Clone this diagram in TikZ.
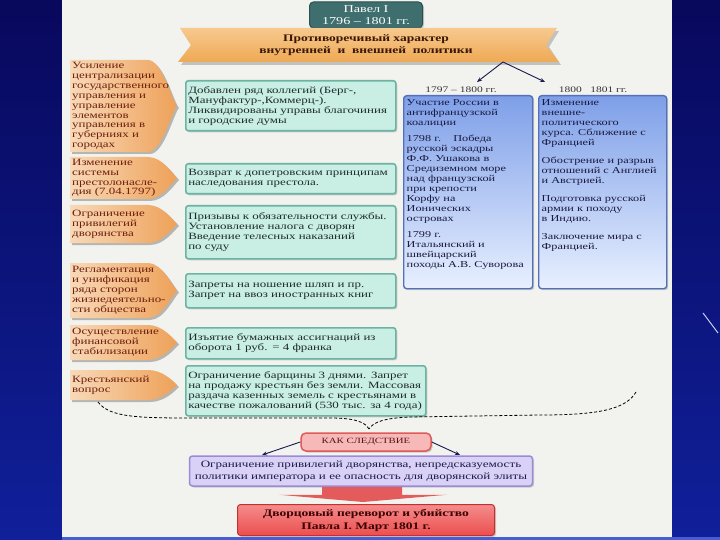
\documentclass[tikz,border=0pt]{standalone}
\usepackage{fontspec}
\setmainfont[FakeStretch=1.35]{Liberation Serif}
\usetikzlibrary{arrows.meta,shadows,calc}
\definecolor{navy}{HTML}{08085C}
\definecolor{navyL}{HTML}{10209A}
\definecolor{navyR}{HTML}{1A34C8}
\definecolor{paper}{HTML}{F2F2EE}
\definecolor{oL}{HTML}{F8D9B8}
\definecolor{oR}{HTML}{EEA158}
\definecolor{otext}{HTML}{6E1E0E}
\definecolor{gfill}{HTML}{C9EFE5}
\definecolor{gdraw}{HTML}{6DB3A3}
\definecolor{gtext}{HTML}{1E2A2A}
\definecolor{bTop}{HTML}{7E9FE8}
\definecolor{bBot}{HTML}{E8F0FF}
\definecolor{bdraw}{HTML}{5470B8}
\definecolor{btext}{HTML}{1A1A40}
\definecolor{tfill}{HTML}{3F6E6F}
\definecolor{tdraw}{HTML}{2B5051}
\definecolor{banner}{HTML}{EFA955}
\definecolor{bannerL}{HTML}{F6C98E}
\definecolor{bantext}{HTML}{3A1606}
\definecolor{kfill}{HTML}{F7B8B8}
\definecolor{kdraw}{HTML}{E05A5A}
\definecolor{ktext}{HTML}{5A1010}
\definecolor{pfill}{HTML}{DAD2F6}
\definecolor{pdraw}{HTML}{9B8AD8}
\definecolor{ptext}{HTML}{1A1A4A}
\definecolor{rTop}{HTML}{F58C8C}
\definecolor{rBot}{HTML}{EC4E4E}
\definecolor{rdraw}{HTML}{C43030}
\definecolor{rtext}{HTML}{3A0000}
\definecolor{arrowc}{HTML}{1A1A50}
\definecolor{bigA}{HTML}{E45B5B}
\definecolor{bigM}{HTML}{FBE3E3}

\tikzset{
  shad/.style={drop shadow={shadow xshift=1.5pt,shadow yshift=-1.5pt,opacity=.35}},
  conn/.style={draw=arrowc, line width=0.9pt, -{Stealth[length=5pt,width=4pt]}},
  brace/.style={draw=black, line width=0.8pt, dash pattern=on 3pt off 2pt},
  gbox/.style={draw=gdraw, line width=1.6pt, fill=gfill, rounded corners=2.5pt, inner sep=2.5pt, align=left, anchor=north west, text=gtext, font=\fontsize{9.6}{10}\selectfont, shad},
  otxt/.style={anchor=west, align=left, text=otext, inner sep=0pt, font=\fontsize{9.6}{9.9}\selectfont},
  bbox/.style={draw=bdraw, line width=1.4pt, top color=bTop, bottom color=bBot, rounded corners=3pt, inner sep=3pt, anchor=north west, text=btext, font=\fontsize{9.1}{10}\selectfont, shad},
  tbox/.style={draw=tdraw, line width=1pt, fill=tfill, rounded corners=4pt, text=white, align=center, minimum width=113pt, minimum height=26pt, inner sep=0pt, font=\fontsize{10.5}{12}\selectfont, shad},
  bantxt/.style={align=center, text=bantext, inner sep=0pt, font=\bfseries\fontsize{10}{12}\selectfont},
  lbl/.style={text=black!80, inner sep=0pt, font=\fontsize{8.5}{10}\selectfont},
  kbox/.style={draw=kdraw, line width=1.5pt, fill=kfill, rounded corners=5pt, minimum width=130pt, minimum height=18pt, inner sep=0pt, text=ktext, font=\fontsize{8}{9}\selectfont, shad},
  pbox/.style={draw=pdraw, line width=1.5pt, fill=pfill, rounded corners=3pt, minimum width=343pt, minimum height=30pt, inner sep=0pt, align=center, text=ptext, font=\fontsize{9.7}{11.5}\selectfont, shad},
  rbox/.style={draw=rdraw, line width=1pt, top color=rTop, bottom color=rBot, rounded corners=3pt, minimum width=257pt, minimum height=31pt, inner sep=0pt, align=center, text=rtext, font=\bfseries\fontsize{10}{13}\selectfont, shad},
}

% orange arrow-shaped box: name, top, bottom, text
\newcommand\obox[4]{%
  \pgfmathsetmacro\ym{(#2+#3)/2}%
  \fill[black,opacity=.25] (72,#2+2) -- (150,#2+2) .. controls (164,#2+2) and (174,\ym-3) .. (179,\ym+2) .. controls (174,\ym+7) and (164,#3+2) .. (150,#3+2) -- (72,#3+2) -- cycle;
  \shade[left color=oL, right color=oR] (70,#2) -- (148,#2) .. controls (162,#2) and (172,\ym-5) .. (177,\ym) .. controls (172,\ym+5) and (162,#3) .. (148,#3) -- (70,#3) -- cycle;
  \node[otxt] (#1) at (72,\ym) {#4};
}

\begin{document}
\begin{tikzpicture}[x=1pt,y=-1pt]
\useasboundingbox (0,0) rectangle (720,540);
% slide background
\fill[navy] (0,0) rectangle (720,540);
\shade[top color=navy, bottom color=navyL] (0,0) rectangle (62,540);
\shade[top color=navy, middle color=navyR, bottom color=navyL] (672,0) rectangle (720,540);
\fill[navyR!80!white] (62,537) rectangle (720,540);
\draw[white!75!navyR, line width=1pt] (703,313) -- (718,333);
\fill[paper] (62,0) rectangle (672,537);

% title
\node[tbox] (title) at (366,15) {Павел I\\1796 – 1801 гг.};

% banner
\fill[black,opacity=.2] (182,31) -- (559,31) -- (549,47) -- (561,65) -- (181,65) -- (193,48) -- cycle;
\shade[top color=bannerL, bottom color=banner] (180,28) -- (557,28) -- (546,45) -- (559,62) -- (178,62) -- (191,45) -- cycle;
\node[bantxt] (ban) at (366,45) {Противоречивый характер\\внутренней\ \ и\ \ внешней\ \ политики};

% foreign policy
\coordinate (bs) at (503,62);
\coordinate (a1) at (477,82);
\coordinate (a2) at (545,82);
\draw[conn] (bs) -- (a1);
\draw[conn] (bs) -- (a2);
\node[lbl] (l1) at (461,90) {1797 – 1800 гг.};
\node[lbl] (l2) at (593,90) {1800\ \ \ 1801 гг.};

\node[bbox, minimum width=129pt, minimum height=193pt] (b1) at (403,95) {\parbox[c][185pt][t]{123pt}{\raggedright
Участие России в\\ антифранцузской\\ коалиции\\[6pt]
1798 г.\ \ \ \ Победа\\ русской эскадры\\ Ф.Ф. Ушакова в\\ Средиземном море\\ над французской\\ при крепости\\ Корфу на\\ Ионических\\ островах\\[6pt]
1799 г.\\ Итальянский и\\ швейцарский\\ походы А.В. Суворова}};
\node[bbox, minimum width=128pt, minimum height=193pt] (b2) at (538,95) {\parbox[c][185pt][t]{122pt}{\raggedright
Изменение\\ внешне-\\ политического\\ курса. Сближение с\\ Францией\\[8pt]
Обострение и разрыв\\ отношений с Англией\\ и Австрией.\\[8pt]
Подготовка русской\\ армии к походу\\ в Индию.\\[8pt]
Заключение мира с\\ Францией.}};

% domestic policy: left column
\obox{o1}{60}{152}{Усиление\\централизации\\государственного\\управления и\\управление\\элементов\\управления в\\губерниях и\\городах}
\obox{o2}{157}{199}{Изменение\\системы\\престолонасле-\\дия (7.04.1797)}
\obox{o3}{205}{243}{Ограничение\\привилегий\\дворянства}
\obox{o4}{263}{318}{Регламентация\\и унификация\\ряда сторон\\жизнедеятельно-\\сти общества}
\obox{o5}{325}{360}{Осуществление\\финансовой\\стабилизации}
\obox{o6}{370}{400}{Крестьянский\\вопрос}

% domestic policy: measures
\node[gbox, minimum width=210pt, minimum height=50pt, text width=205pt] (g1) at (185,80) {Добавлен ряд коллегий (Берг-,\\Мануфактур-,Коммерц-).\\Ликвидированы управы благочиния\\ и городские думы};
\node[gbox, minimum width=210pt, minimum height=30pt, text width=205pt] (g2) at (185,163) {Возврат к допетровским принципам\\наследования престола.};
\node[gbox, minimum width=210pt, minimum height=53pt, text width=205pt] (g3) at (185,205) {Призывы к обязательности службы.\\Установление налога с дворян\\Введение телесных наказаний\\по суду};
\node[gbox, minimum width=210pt, minimum height=34pt, text width=205pt] (g4) at (185,273) {Запреты на ношение шляп и пр.\\Запрет на ввоз иностранных книг};
\node[gbox, minimum width=210pt, minimum height=31pt, text width=205pt] (g5) at (185,327) {Изъятие бумажных ассигнаций из\\оборота 1 руб. = 4 франка};
\node[gbox, minimum width=240pt, minimum height=50pt, text width=235pt] (g6) at (185,365) {Ограничение барщины 3 днями. Запрет\\на продажу крестьян без земли. Массовая\\раздача казенных земель с крестьянами в\\качестве пожалований (530 тыс. за 4 года)};

% dashed brace
\coordinate (bl) at (98,402);
\coordinate (br) at (636,392);
\coordinate (bt) at (369,429);
\draw[brace] (bl) .. controls (110,418) and (140,418) .. (200,418) -- (330,418) .. controls (355,418) and (365,422) .. (bt);
\draw[brace] (br) .. controls (626,409) and (600,415) .. (540,415) -- (410,417) .. controls (385,418) and (373,422) .. (bt);

% consequence
\node[kbox] (kak) at (366,442) {КАК СЛЕДСТВИЕ};
\node[pbox] (purp) at (361,471) {Ограничение привилегий дворянства, непредсказуемость\\политики императора и ее опасность для дворянской элиты};
\coordinate (p1) at (262,455);
\coordinate (p2) at (460,455);
\draw[conn] (kak.west) -- (p1);
\draw[conn] (kak.east) -- (p2);

\node[rbox] (red) at (366,520) {Дворцовый переворот и убийство\\Павла I. Март 1801 г.};

% block arrow from purp to red
\shade[left color=bigA, middle color=bigM, right color=bigA]
  ($(purp.south)+(-39,0)$) -- ($(purp.south)+(41,0)$) -- ($(purp.south)+(41,8)$) -- ($(purp.south)+(86,8)$)
  -- ($(red.north)+(-3,-2)$) -- ($(purp.south)+(-82,8)$) -- ($(purp.south)+(-39,8)$) -- cycle;
\end{tikzpicture}
\end{document}
